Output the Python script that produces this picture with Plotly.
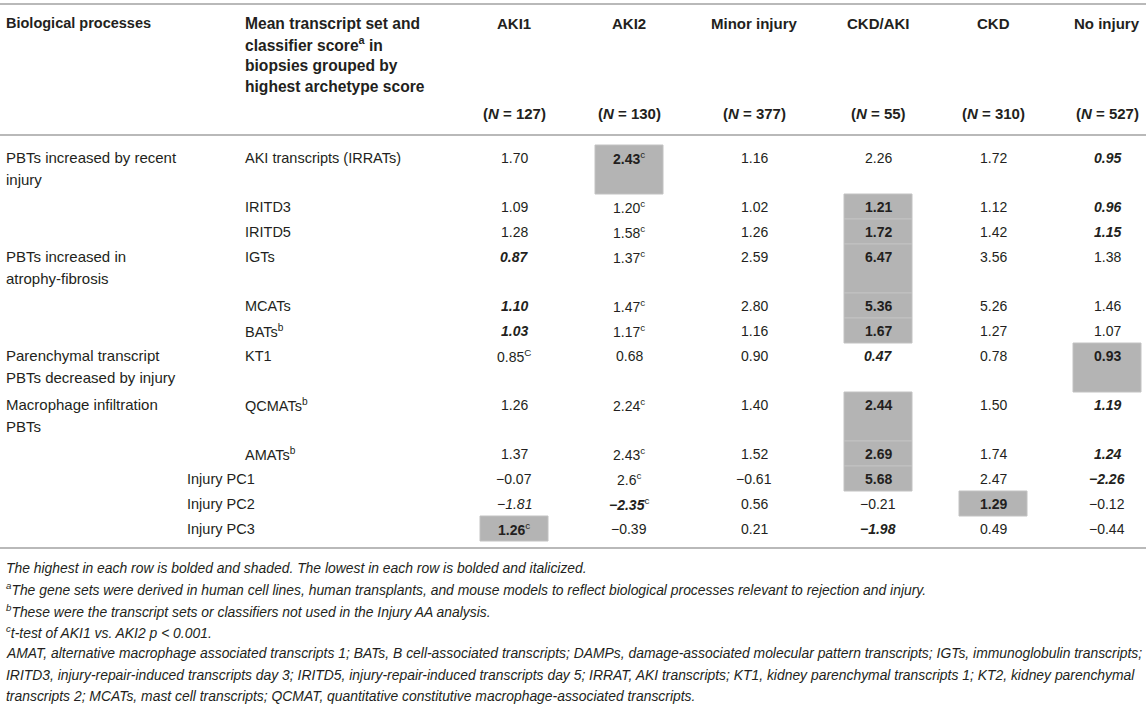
import plotly.graph_objects as go

# Table content
groups = ["AKI1", "AKI2", "Minor injury", "CKD/AKI", "CKD", "No injury"]
group_n = [127, 130, 377, 55, 310, 527]

header_col1 = "Biological processes"
header_col2 = ["Mean transcript set and", "classifier score<sup>a</sup> in",
               "biopsies grouped by", "highest archetype score"]

process_labels = [
    ["PBTs increased by recent", "injury"],
    [], [],
    ["PBTs increased in", "atrophy-fibrosis"],
    [], [],
    ["Parenchymal transcript", "PBTs decreased by injury"],
    ["Macrophage infiltration", "PBTs"],
    [], [], [], [],
]
transcript_sets = ["AKI transcripts (IRRATs)", "IRITD3", "IRITD5", "IGTs", "MCATs",
                   "BATs<sup>b</sup>", "KT1", "QCMATs<sup>b</sup>", "AMATs<sup>b</sup>",
                   "Injury PC1", "Injury PC2", "Injury PC3"]

scores = [
    ["1.70", "2.43", "1.16", "2.26", "1.72", "0.95"],
    ["1.09", "1.20", "1.02", "1.21", "1.12", "0.96"],
    ["1.28", "1.58", "1.26", "1.72", "1.42", "1.15"],
    ["0.87", "1.37", "2.59", "6.47", "3.56", "1.38"],
    ["1.10", "1.47", "2.80", "5.36", "5.26", "1.46"],
    ["1.03", "1.17", "1.16", "1.67", "1.27", "1.07"],
    ["0.85", "0.68", "0.90", "0.47", "0.78", "0.93"],
    ["1.26", "2.24", "1.40", "2.44", "1.50", "1.19"],
    ["1.37", "2.43", "1.52", "2.69", "1.74", "1.24"],
    ["-0.07", "2.6", "-0.61", "5.68", "2.47", "-2.26"],
    ["-1.81", "-2.35", "0.56", "-0.21", "1.29", "-0.12"],
    ["1.26", "-0.39", "0.21", "-1.98", "0.49", "-0.44"],
]
# t-test footnote marks for AKI1 / AKI2 columns
aki1_marks = ["", "", "", "", "", "", "C", "", "", "", "", "c"]
aki2_marks = ["c", "c", "c", "c", "c", "c", "", "c", "c", "c", "c", ""]
italic_only = [(10, 0)]

footnotes = [
    "The highest in each row is bolded and shaded. The lowest in each row is bolded and italicized.",
    "<sup>a</sup>The gene sets were derived in human cell lines, human transplants, and mouse models to reflect biological processes relevant to rejection and injury.",
    "<sup>b</sup>These were the transcript sets or classifiers not used in the Injury AA analysis.",
    "<sup>c</sup>t-test of AKI1 vs. AKI2 p &lt; 0.001.",
    "AMAT, alternative macrophage associated transcripts 1; BATs, B cell-associated transcripts; DAMPs, damage-associated molecular pattern transcripts; IGTs, immunoglobulin transcripts;",
    "IRITD3, injury-repair-induced transcripts day 3; IRITD5, injury-repair-induced transcripts day 5; IRRAT, AKI transcripts; KT1, kidney parenchymal transcripts 1; KT2, kidney parenchymal",
    "transcripts 2; MCATs, mast cell transcripts; QCMAT, quantitative constitutive macrophage-associated transcripts.",
]

# Layout / style
W, H = 1146, 704
FONT = "Liberation Sans, Arial, sans-serif"
INK = "#231f20"
RULE = "#b9b9b9"
SHADE = "#b4b4b4"
col_x = [514, 629, 754, 878, 993, 1107]
box_half = 34
x_proc, x_set, x_pc = 4, 243, 185
header_y, header_step, n_y = 23, 21.3, 113
rule_y = [4, 135, 548]
row_top0, row_h, extra_line = 145, 25, 24
line_gap = 22
foot_y0, foot_step = 568, 21.3

fig = go.Figure()
ann = []
shapes = []


def add_text(x, y, text, size=14.5, anchor="left"):
    ann.append(dict(x=x, y=y, xref="x", yref="y", text=text, showarrow=False,
                    xanchor=anchor, yanchor="middle", align=anchor,
                    font=dict(family=FONT, size=size, color=INK)))


# header
add_text(x_proc, header_y, "<b>%s</b>" % header_col1, size=14.5)
for i, line in enumerate(header_col2):
    add_text(x_set, header_y + i * header_step, "<b>%s</b>" % line, size=15.6)
for c, g in enumerate(groups):
    add_text(col_x[c], header_y, "<b>%s</b>" % g, size=15, anchor="center")
    add_text(col_x[c], n_y, "<b>(<i>N</i> = %d)</b>" % group_n[c], size=15, anchor="center")

# body rows
top = row_top0
for r, label in enumerate(transcript_sets):
    n_lines = max(1, len(process_labels[r]))
    height = row_h + extra_line * (n_lines - 1)
    y0 = top + row_h / 2
    for k, line in enumerate(process_labels[r]):
        add_text(x_proc, y0 + k * line_gap, line, size=15)
    add_text(x_pc if label.startswith("Injury PC") else x_set, y0, label)

    nums = [float(v) for v in scores[r]]
    hi = nums.index(max(nums))
    lo = nums.index(min(nums))
    for c, v in enumerate(scores[r]):
        txt = v.replace("-", "\u2212")
        if c == hi:
            txt = "<b>%s</b>" % txt
            shapes.append(dict(type="rect", xref="x", yref="y",
                               x0=col_x[c] - box_half, x1=col_x[c] + box_half,
                               y0=top, y1=top + height, fillcolor=SHADE,
                               line=dict(color="#c2c2c2", width=1), layer="below"))
        elif c == lo:
            txt = "<b><i>%s</i></b>" % txt
        elif (r, c) in italic_only:
            txt = "<i>%s</i>" % txt
        mark = aki1_marks[r] if c == 0 else aki2_marks[r] if c == 1 else ""
        if mark:
            txt += "<sup>%s</sup>" % mark
        add_text(col_x[c], y0, txt, size=14, anchor="center")
    top += height

# rules
for y in rule_y:
    shapes.append(dict(type="line", xref="x", yref="y", x0=0, x1=W, y0=y, y1=y,
                       line=dict(color=RULE, width=2)))

# footnotes
for i, note in enumerate(footnotes):
    add_text(x_proc, foot_y0 + i * foot_step, "<i>%s</i>" % note, size=13.9)

fig.update_layout(
    width=W, height=H,
    margin=dict(l=0, r=0, t=0, b=0),
    paper_bgcolor="white", plot_bgcolor="white",
    xaxis=dict(range=[0, W], visible=False, fixedrange=True),
    yaxis=dict(range=[H, 0], visible=False, fixedrange=True),
    annotations=ann, shapes=shapes,
    showlegend=False,
)

fig.write_html("out.html", config={"displayModeBar": False},
               post_script="document.body.style.margin = '0';")
